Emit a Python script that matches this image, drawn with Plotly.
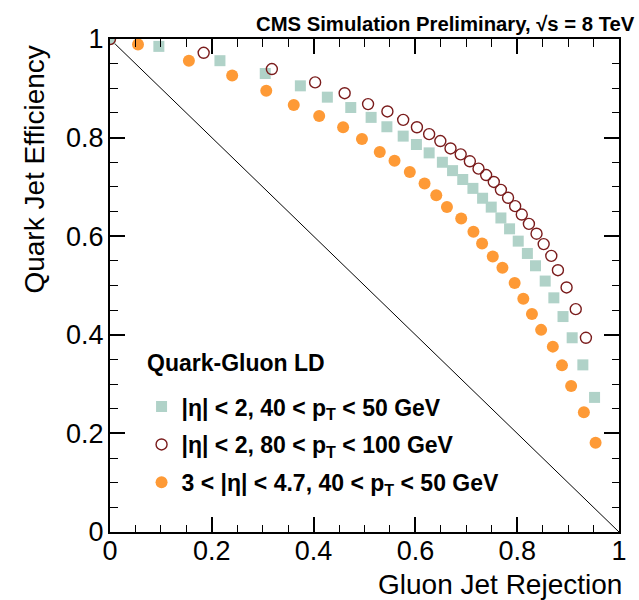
import plotly.graph_objects as go

# ---- data ----
# |eta| < 2, 40 < pT < 50 GeV  (teal squares)
a_x = [0.0, 0.096, 0.216, 0.305, 0.374, 0.427, 0.473, 0.513, 0.544, 0.576, 0.602,
       0.627, 0.653, 0.673, 0.693, 0.713, 0.732, 0.749, 0.768, 0.785, 0.802, 0.820,
       0.836, 0.855, 0.872, 0.890, 0.908, 0.929, 0.952]
a_y = [1.0, 0.985, 0.956, 0.930, 0.905, 0.882, 0.861, 0.841, 0.822, 0.803, 0.786,
       0.769, 0.750, 0.733, 0.715, 0.697, 0.677, 0.659, 0.637, 0.615, 0.590, 0.565,
       0.540, 0.509, 0.475, 0.437, 0.394, 0.339, 0.273]

# |eta| < 2, 80 < pT < 100 GeV  (dark red open circles)
b_x = [0.0, 0.184, 0.318, 0.403, 0.461, 0.507, 0.545, 0.576, 0.603, 0.627, 0.649,
       0.669, 0.689, 0.707, 0.724, 0.739, 0.754, 0.768, 0.782, 0.796, 0.809, 0.823,
       0.838, 0.852, 0.867, 0.880, 0.897, 0.915, 0.935]
b_y = [1.0, 0.972, 0.939, 0.912, 0.890, 0.868, 0.853, 0.836, 0.821, 0.807, 0.793,
       0.778, 0.766, 0.752, 0.737, 0.724, 0.710, 0.694, 0.678, 0.661, 0.644, 0.625,
       0.605, 0.584, 0.560, 0.531, 0.496, 0.452, 0.394]

# 3 < |eta| < 4.7, 40 < pT < 50 GeV  (orange filled circles)
c_x = [0.0, 0.055, 0.155, 0.240, 0.307, 0.361, 0.411, 0.458, 0.495, 0.530, 0.559,
       0.589, 0.618, 0.641, 0.662, 0.690, 0.714, 0.731, 0.752, 0.771, 0.795, 0.812,
       0.829, 0.847, 0.870, 0.888, 0.906, 0.931, 0.954]
c_y = [1.0, 0.989, 0.956, 0.926, 0.895, 0.866, 0.844, 0.821, 0.797, 0.771, 0.753,
       0.730, 0.707, 0.683, 0.659, 0.636, 0.609, 0.585, 0.559, 0.536, 0.505, 0.473,
       0.442, 0.410, 0.376, 0.338, 0.296, 0.243, 0.181]

diag_x = [0.0, 1.0]
diag_y = [1.0, 0.0]

x_ticks = [0, 0.2, 0.4, 0.6, 0.8, 1]
x_tick_labels = ["0", "0.2", "0.4", "0.6", "0.8", "1"]
y_ticks = [0, 0.2, 0.4, 0.6, 0.8, 1]
y_tick_labels = ["0", "0.2", "0.4", "0.6", "0.8", "1"]

name_a = "|η| < 2, 40 < p<sub>T</sub> < 50 GeV"
name_b = "|η| < 2, 80 < p<sub>T</sub> < 100 GeV"
name_c = "3 < |η| < 4.7, 40 < p<sub>T</sub> < 50 GeV"
legend_title = "Quark-Gluon LD"

FONT = "Liberation Sans, Arial, Helvetica, sans-serif"

fig = go.Figure()

fig.add_trace(go.Scatter(x=diag_x, y=diag_y, mode="lines",
                         line=dict(color="black", width=1), showlegend=False,
                         hoverinfo="skip"))

fig.add_trace(go.Scatter(x=c_x, y=c_y, mode="markers", name=name_c,
                         legendgroup="c", legendrank=3,
                         marker=dict(symbol="circle", size=12, color="#fe9a36",
                                     line=dict(width=0))))
fig.add_trace(go.Scatter(x=a_x, y=a_y, mode="markers", name=name_a,
                         legendgroup="a", legendrank=1,
                         marker=dict(symbol="square", size=11, color="#b0d2c8",
                                     line=dict(width=0))))
fig.add_trace(go.Scatter(x=b_x, y=b_y, mode="markers", name=name_b,
                         legendgroup="b", legendrank=2,
                         marker=dict(symbol="circle-open", size=11, color="#7a1c1c",
                                     line=dict(width=1.4, color="#7a1c1c"))))

axis_common = dict(
    range=[0, 1], showgrid=False, zeroline=False,
    showline=True, linewidth=2, linecolor="black", mirror="allticks",
    ticks="inside", ticklen=15, tickwidth=1.5, tickcolor="black",
    tickfont=dict(family=FONT, size=27, color="black"),
    minor=dict(dtick=0.05, ticks="inside", ticklen=7.5, tickwidth=1, tickcolor="black"),
)

fig.update_xaxes(**axis_common, tickvals=x_ticks, ticktext=x_tick_labels,
                 ticklabelstandoff=-6)
fig.update_yaxes(**axis_common, tickvals=y_ticks, ticktext=y_tick_labels,
                 ticklabelstandoff=-1)

fig.update_layout(
    width=639, height=600,
    margin=dict(l=110, r=16, t=39, b=68),
    paper_bgcolor="white", plot_bgcolor="white",
    font=dict(family=FONT, color="black"),
    showlegend=True,
    legend=dict(
        x=0.062, y=0.298, xanchor="left", yanchor="top",
        bgcolor="rgba(0,0,0,0)", borderwidth=0,
        font=dict(family=FONT, size=23, weight="bold"),
        tracegroupgap=5, traceorder="grouped",
    ),
    annotations=[
        dict(text="<b>" + legend_title + "</b>",
             xref="paper", yref="paper", x=0.068, y=0.3428,
             xanchor="left", yanchor="middle", showarrow=False,
             font=dict(family=FONT, size=23, color="black")),
        dict(text="<b>CMS Simulation Preliminary, √s = 8 TeV</b>",
             xref="paper", yref="paper", x=1.035, y=1.0304,
             xanchor="right", yanchor="middle", showarrow=False,
             font=dict(family=FONT, size=20.3, color="black")),
        dict(text="Gluon Jet Rejection",
             xref="paper", yref="paper", x=1.01, y=-0.1075,
             xanchor="right", yanchor="middle", showarrow=False,
             font=dict(family=FONT, size=28, color="black")),
        dict(text="Quark Jet Efficiency", textangle=-90,
             xref="paper", yref="paper", x=-0.148, y=0.99,
             xanchor="center", yanchor="top", showarrow=False,
             font=dict(family=FONT, size=28, color="black")),
    ],
)

fig.write_html("out.html")
